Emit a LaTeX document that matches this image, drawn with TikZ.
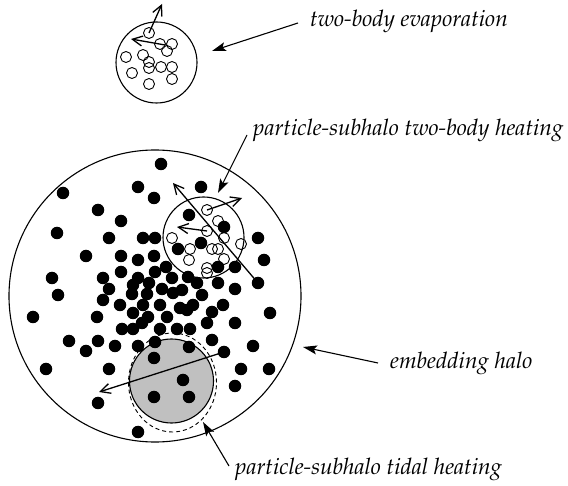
\documentclass[tikz,border=0pt]{standalone}
\usepackage[T1]{fontenc}
\renewcommand{\rmdefault}{ppl}
\usetikzlibrary{arrows.meta,shapes.geometric}
\definecolor{subgray}{RGB}{192,192,192}
\begin{document}
\begin{tikzpicture}[x=1pt,y=-1pt,
  fdot/.style={circle,fill=black,inner sep=0pt,minimum size=12.5pt},
  odot/.style={circle,draw=black,line width=0.9pt,inner sep=0pt,minimum size=11pt},
  halo/.style={circle,draw=black,line width=1.1pt,inner sep=0pt},
  lbl/.style={font=\fontsize{22.7}{27}\selectfont\itshape,inner sep=0pt,anchor=base west},
  larrow/.style={line width=1.1pt,-{Stealth[length=14pt,width=9pt,inset=3pt]}},
  varrow/.style={line width=1.3pt,-{Straight Barb[length=10pt,width=10pt]}},
]
\useasboundingbox (0,0) rectangle (568,486);
% halos
\node[halo,minimum size=292pt] (big) at (155,296) {};
\node[halo,minimum size=81pt] (top) at (156.5,62.5) {};
\node[halo,minimum size=84pt,fill=subgray] (gray) at (171.5,381) {};
\node[ellipse,draw=black,line width=0.9pt,dashed,dash pattern=on 4pt off 3pt,inner sep=0pt,minimum width=88pt,minimum height=99pt] (tidal) at (172.5,382.5) {};
% filled particles
\foreach \px/\py [count=\i] in {161/164,63/193,138/187,154/198,201/187,98/210,121/221,57/233,109/238,143/238,
155/238,189/215,224/227,86/256,121/256,154/256,138/260,178/249,201/243,258/238,
264/260,218/267,235/267,166/267,52/278,103/278,121/272,155/272,138/278,58/295,
109/289,133/285,149/283,172/278,188/277,197/283,218/283,235/289,258/283,33/317,
103/300,132/294,147/294,162/289,173/293,182/290,202/295,120/305,143/305,160/305,
180/308,193/305,223/305,97/317,133/313,148/317,167/317,187/310,212/312,270/313,
235/323,122/329,133/329,142/323,160/329,177/329,190/329,207/323,69/341,98/341,
115/346,138/346,155/342,189/347,212/340,86/351,154/358,224/352,253/346,46/369,
109/369,241/369,269/369,235/386,98/403,183/380,154/397,189/397,138/432}
  \node[fdot] (f\i) at (\px,\py) {};
% subhalo
\node[halo,minimum size=81pt] (sub) at (203.5,237.5) {};
\foreach \px/\py [count=\i] in {207/210,218/221,207/231,172/238,224/238,241/244,190/249,212/249,218/249,189/260,224/259,207/268,207/273}
  \node[odot] (s\i) at (\px,\py) {};
% top cluster
\foreach \px/\py [count=\i] in {149/33,160/44,172/44,167/51,126/57,143/55,149/62,149/68,161/67,172/67,132/73,172/79,149/84}
  \node[odot] (t\i) at (\px,\py) {};
% velocity arrows
\coordinate (tv1) at (162,4);
\coordinate (tv2s) at (165,45);
\coordinate (tv2) at (131,39);
\draw[varrow] (t1.center) -- (tv1);
\draw[varrow] (tv2s) -- (tv2);
\coordinate (sv1) at (242,198);
\coordinate (sv2) at (177,227);
\coordinate (sv3) at (173,183);
\draw[varrow] (s1.center) -- (sv1);
\draw[varrow] (s3.center) -- (sv2);
\draw[varrow] (f39.center) -- (sv3);
\coordinate (gv) at (99,392);
\draw[varrow] (f78.center) -- (gv);
% labels
\node[lbl] (l1) at (310,27) {two-body evaporation};
\node[lbl] (l2) at (253,136) {particle-subhalo two-body heating};
\node[lbl] (l3) at (390,369) {embedding halo};
\node[lbl] (l4) at (235,474) {particle-subhalo tidal heating};
\coordinate (a1s) at (298,23);
\coordinate (a1e) at (212,51);
\coordinate (a2s) at (247,135);
\coordinate (a2e) at (218,193);
\coordinate (a3s) at (378,363);
\coordinate (a3e) at (303,347);
\coordinate (a4s) at (229,466);
\coordinate (a4e) at (203,422);
\draw[larrow] (a1s) -- (a1e);
\draw[larrow] (a2s) -- (a2e);
\draw[larrow] (a3s) -- (a3e);
\draw[larrow] (a4s) -- (a4e);
\end{tikzpicture}
\end{document}
